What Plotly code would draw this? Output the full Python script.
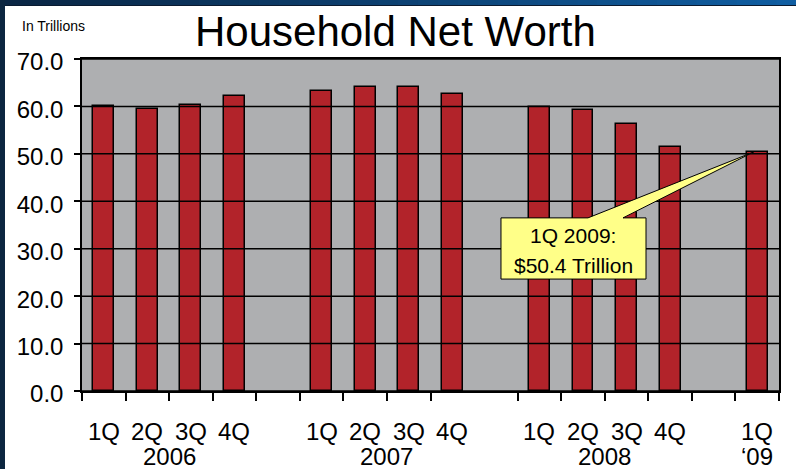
import plotly.graph_objects as go

# ---- data ----
quarter_labels = ["1Q", "2Q", "3Q", "4Q", "", "1Q", "2Q", "3Q", "4Q", "", "1Q", "2Q", "3Q", "4Q", "", "1Q"]
net_worth = [60.0, 59.4, 60.3, 62.3, None, 63.3, 64.1, 64.1, 62.7, None, 59.9, 59.2, 56.4, 51.4, None, 50.4]
year_labels = ["2006", "2007", "2008", "\u201809"]
year_positions = [1.5, 6.5, 11.5, 15]
y_ticks = [0, 10, 20, 30, 40, 50, 60, 70]
callout_lines = ["1Q 2009:", "$50.4 Trillion"]

FONT = "Liberation Sans, Arial, Helvetica, sans-serif"
W, H = 796, 469
L, R, T, B = 82, 17, 59, 78
PW, PH = W - L - R, H - T - B

def pxx(px):
    return (px - L) / PW

def pxy(py):
    return 1 - (py - T) / PH

n = len(net_worth)
xs = list(range(n))

fig = go.Figure(go.Bar(
    x=xs, y=net_worth, width=0.48,
    marker=dict(color="#B2232A", line=dict(color="black", width=1.5)),
    hoverinfo="skip",
))

# tick marks at slot boundaries (reference omits one)
boundaries = [i - 0.5 for i in range(n + 1) if i != 9]

shapes = []
# frame: top gradient band
steps = 40
c0 = (10, 38, 68)
c1 = (16, 94, 162)
for i in range(steps):
    f = i / (steps - 1)
    col = tuple(int(c0[k] + (c1[k] - c0[k]) * f) for k in range(3))
    shapes.append(dict(type="rect", xref="paper", yref="paper",
                       x0=pxx(W * i / steps), x1=pxx(W * (i + 1) / steps + 1),
                       y0=pxy(6), y1=pxy(0), fillcolor="rgb(%d,%d,%d)" % col,
                       line=dict(width=0), layer="above"))
shapes.append(dict(type="rect", xref="paper", yref="paper",
                   x0=pxx(0), x1=pxx(W), y0=pxy(6), y1=pxy(5),
                   fillcolor="#0a1a30", line=dict(width=0), layer="above"))
# left band
shapes.append(dict(type="rect", xref="paper", yref="paper",
                   x0=pxx(0), x1=pxx(5), y0=pxy(H), y1=pxy(0),
                   fillcolor="#0c2640", line=dict(width=0), layer="above"))

# gridlines drawn above bars
for v in y_ticks:
    shapes.append(dict(type="line", xref="paper", yref="y", x0=0, x1=1, y0=v, y1=v,
                       line=dict(color="black", width=1.5), layer="above"))

# callout
bx0, bx1, by0, by1 = 9.118, 12.447, 23.6, 36.5
w0, w1 = 11.115, 11.919
tx, ty = n - 1 - 0.08, net_worth[-1]
path = (f"M {bx0},{by1} L {w0},{by1} L {tx},{ty} L {w1},{by1} L {bx1},{by1} "
        f"L {bx1},{by0} L {bx0},{by0} Z")
shapes.append(dict(type="path", xref="x", yref="y", path=path,
                   fillcolor="#FFFF88", line=dict(color="black", width=1), layer="above"))

annotations = []
# callout text
cx = (bx0 + bx1) / 2
for txt, yv in zip(callout_lines, [32.74, 26.42]):
    annotations.append(dict(x=cx, y=yv, xref="x", yref="y", text=txt, showarrow=False,
                            font=dict(family=FONT, size=21, color="black"),
                            xanchor="center", yanchor="middle"))
# quarter labels
for i, q in enumerate(quarter_labels):
    if q:
        annotations.append(dict(x=i, y=pxy(431), xref="x", yref="paper", text=q,
                                showarrow=False, font=dict(family=FONT, size=24, color="black"),
                                xanchor="center", yanchor="middle"))
# year labels
for yl, xp in zip(year_labels, year_positions):
    annotations.append(dict(x=xp, y=pxy(456), xref="x", yref="paper", text=yl,
                            showarrow=False, font=dict(family=FONT, size=24, color="black"),
                            xanchor="center", yanchor="middle"))
# title & unit
annotations.append(dict(x=pxx(395.5), y=pxy(31), xref="paper", yref="paper",
                        text="Household Net Worth", showarrow=False,
                        font=dict(family=FONT, size=42, color="black"),
                        xanchor="center", yanchor="middle"))
annotations.append(dict(x=pxx(20), y=pxy(25.7), xref="paper", yref="paper",
                        text="In Trillions", showarrow=False,
                        font=dict(family=FONT, size=14, color="black"),
                        xanchor="left", yanchor="middle"))

fig.update_layout(
    width=W, height=H,
    margin=dict(l=L, r=R, t=T, b=B, pad=0),
    paper_bgcolor="white", plot_bgcolor="#AEAFB1",
    showlegend=False,
    shapes=shapes, annotations=annotations,
    bargap=0,
    xaxis=dict(range=[-0.5, n - 0.5], tickmode="array", tickvals=boundaries,
               ticktext=[""] * len(boundaries), ticks="outside", ticklen=8,
               tickwidth=1.5, tickcolor="black", showgrid=False, zeroline=False,
               showline=True, linecolor="black", linewidth=1.5, mirror=True,
               fixedrange=True),
    yaxis=dict(range=[0, 70], tickmode="array", tickvals=y_ticks,
               ticktext=["%.1f" % v for v in y_ticks], ticks="outside", ticklen=6,
               tickwidth=1.5, tickcolor="black", showgrid=False, zeroline=False,
               showline=True, linecolor="black", linewidth=1.5, mirror=True,
               tickfont=dict(family=FONT, size=24, color="black"),
               ticklabelstandoff=6, ticklabelshift=3, fixedrange=True),
)

fig.write_html("out.html", config={"displayModeBar": False},
               post_script="document.body.style.margin='0';document.body.style.overflow='hidden';")
